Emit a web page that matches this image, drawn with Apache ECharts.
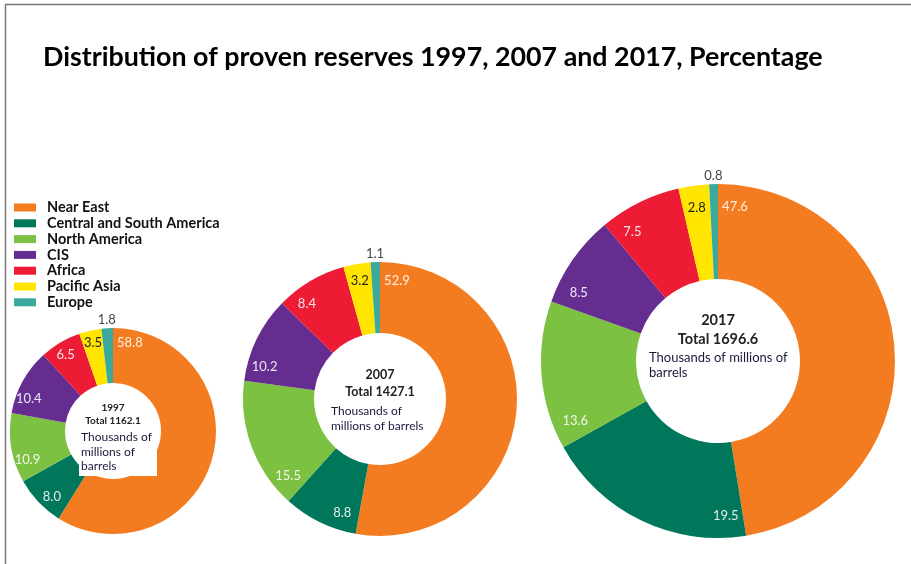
<!DOCTYPE html>
<html><head><meta charset="utf-8">
<script src="https://cdn.jsdelivr.net/npm/echarts@6/dist/echarts.min.js"></script>
<style>html,body{margin:0;padding:0;background:#fff}#c{width:911px;height:564px}</style>
</head><body><div id="c"></div>
<script>
const titleText = 'Distribution of proven reserves 1997, 2007 and 2017, Percentage';
const regions = ['Near East', 'Central and South America', 'North America', 'CIS', 'Africa', 'Pacific Asia', 'Europe'];
const years = ['1997', '2007', '2017'];
const totals = ['1162.1', '1427.1', '1696.6'];
const values1997 = [58.8, 8.0, 10.9, 10.4, 6.5, 3.5, 1.8];
const values2007 = [52.9, 8.8, 15.5, 10.2, 8.4, 3.2, 1.1];
const values2017 = [47.6, 19.5, 13.6, 8.5, 7.5, 2.8, 0.8];
const unitLines1997 = ['Thousands of', 'millions of', 'barrels'];
const unitLines2007 = ['Thousands of', 'millions of barrels'];
const unitLines2017 = ['Thousands of millions of', 'barrels'];

const colors = ['#F47C20', '#00775A', '#7CC142', '#662D91', '#ED1B34', '#FFE500', '#3BA99C'];
const allValues = [values1997, values2007, values2017];
const allUnits = [unitLines1997, unitLines2007, unitLines2017];
const layouts = [
  {center: [113, 431], r0: 48, r: 103, yearY: 408, totalY: 421, boldSize: 10, unitX: 81, unitY: 430, unitSize: 12, unitLH: 14.5},
  {center: [380, 399], r0: 66, r: 137, yearY: 375, totalY: 392, boldSize: 12.5, unitX: 331, unitY: 403.5, unitSize: 12, unitLH: 15},
  {center: [718, 361], r0: 82, r: 177, yearY: 320, totalY: 339, boldSize: 14.5, unitX: 649, unitY: 350, unitSize: 13, unitLH: 15.5}
];
const FONT = 'Lato, "Open Sans", sans-serif';

function makeLabelLayout(vals, lay) {
  const sum = vals.reduce((a, b) => a + b, 0);
  const starts = [];
  let acc = 0;
  vals.forEach(v => { starts.push(acc / sum * 360); acc += v; });
  return function (p) {
    const k = p.dataIndex;
    const span = vals[k] / sum * 360;
    const last = k === vals.length - 1;
    const rr = last ? lay.r + 8 : lay.r * 0.875;
    const off = Math.min(span / 2, 17 / rr * 180 / Math.PI);
    const th = (starts[k] + off) * Math.PI / 180;
    return {
      x: lay.center[0] + rr * Math.sin(th),
      y: lay.center[1] - rr * Math.cos(th),
      align: 'center', verticalAlign: 'middle'
    };
  };
}

function labelColor(k) {
  if (k === regions.length - 1) return '#444';
  if (k === regions.length - 2) return '#222';
  return 'rgba(255,255,255,0.88)';
}

const series = allValues.map((vals, i) => {
  const lay = layouts[i];
  return {
    type: 'pie',
    name: years[i],
    center: lay.center,
    radius: [lay.r0, lay.r],
    startAngle: 90,
    clockwise: true,
    avoidLabelOverlap: false,
    selectedMode: false,
    silent: true,
    emphasis: {disabled: true},
    labelLine: {show: false},
    label: {
      show: true, position: 'inside', fontFamily: FONT, fontSize: 13,
      formatter: p => p.value.toFixed(1)
    },
    labelLayout: makeLabelLayout(vals, lay),
    data: vals.map((v, k) => ({
      name: regions[k], value: v,
      itemStyle: {color: colors[k]},
      label: {color: labelColor(k)}
    }))
  };
});

const graphics = [
  {type: 'line', z: 100, shape: {x1: 5, y1: 4.5, x2: 911, y2: 4.5}, style: {stroke: '#7a7a7a', lineWidth: 1.5}},
  {type: 'line', z: 100, shape: {x1: 5.5, y1: 4, x2: 5.5, y2: 564}, style: {stroke: '#7a7a7a', lineWidth: 1.5}},
  {type: 'text', z: 100, style: {text: titleText, x: 43, y: 57, textAlign: 'left', textVerticalAlign: 'middle',
    fontFamily: FONT, fontWeight: 'bold', fontSize: 26.8, fill: '#000'}},
  {type: 'rect', z: 90, shape: {x: 79, y: 428, width: 78, height: 48}, style: {fill: '#fff'}}
];
layouts.forEach((lay, i) => {
  graphics.push({type: 'text', z: 100, style: {text: years[i], x: lay.center[0], y: lay.yearY,
    textAlign: 'center', textVerticalAlign: 'middle', fontFamily: FONT, fontWeight: 'bold', fontSize: lay.boldSize, fill: '#222'}});
  graphics.push({type: 'text', z: 100, style: {text: 'Total ' + totals[i], x: lay.center[0], y: lay.totalY,
    textAlign: 'center', textVerticalAlign: 'middle', fontFamily: FONT, fontWeight: 'bold', fontSize: lay.boldSize, fill: '#222'}});
  graphics.push({type: 'text', z: 100, style: {text: allUnits[i].join('\n'), x: lay.unitX, y: lay.unitY,
    textAlign: 'left', textVerticalAlign: 'top', fontFamily: FONT, fontSize: lay.unitSize, lineHeight: lay.unitLH, fill: '#1a1a3c'}});
});

const chart = echarts.init(document.getElementById('c'), null, {renderer: 'canvas'});
chart.setOption({
  animation: false,
  backgroundColor: '#fff',
  legend: {
    orient: 'vertical', left: 9, top: 195, data: regions,
    icon: 'rect', itemWidth: 22, itemHeight: 8, itemGap: 0.8,
    selectedMode: false,
    textStyle: {fontFamily: FONT, fontWeight: 'bold', fontSize: 14.5, lineHeight: 13, color: '#111', padding: [0, 0, 0, 6]}
  },
  graphic: graphics,
  series: series
});
</script>
</body></html>
